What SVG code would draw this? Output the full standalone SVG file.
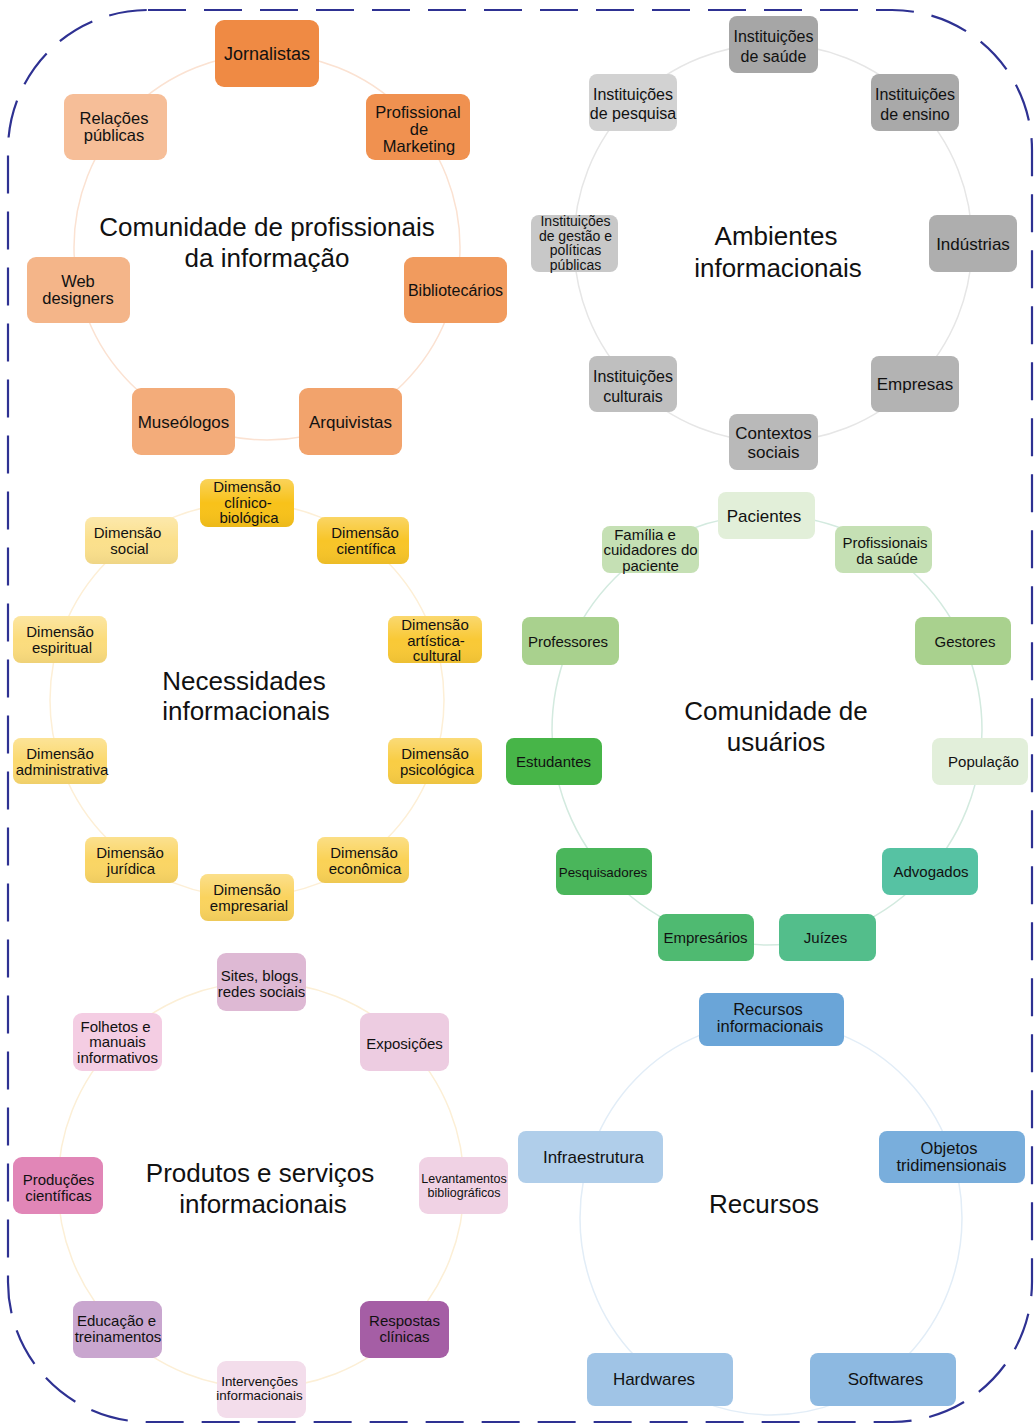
<svg xmlns="http://www.w3.org/2000/svg" width="1036" height="1425" viewBox="0 0 1036 1425">
<defs>
<linearGradient id="shine" x1="0" y1="0" x2="0" y2="1">
<stop offset="0" stop-color="#ffffff" stop-opacity="0.28"/>
<stop offset="0.5" stop-color="#ffffff" stop-opacity="0"/>
<stop offset="1" stop-color="#000000" stop-opacity="0.05"/>
</linearGradient>
</defs>
<style>
text{font-family:"Liberation Sans",Arial,sans-serif;fill:#111;text-anchor:middle}
.n rect{stroke:none}
.title{font-size:26px}
.f17{font-size:17px}
.f165{font-size:16.5px}
.f18{font-size:18px}
.f16{font-size:16px}
.f15{font-size:15px}
.f14{font-size:14px}
.f13{font-size:13.4px}
.f12{font-size:12.5px}
.ring{fill:none;stroke-width:1.5}
.border{fill:none;stroke:#2E3192;stroke-width:2.2;stroke-dasharray:38 18}
</style>
<rect width="1036" height="1425" fill="#ffffff"/>
<rect class="border" x="8" y="10" width="1024" height="1412" rx="140" ry="140"/>

<g id="connectors">
<circle class="ring" cx="267" cy="247" r="193" stroke="#FBE2D2"/>
<circle class="ring" cx="773" cy="243" r="199" stroke="#E6E6E6"/>
<circle class="ring" cx="247" cy="700" r="197" stroke="#FDEFD6"/>
<circle class="ring" cx="767" cy="730" r="215" stroke="#D3EADF"/>
<circle class="ring" cx="261" cy="1185" r="203" stroke="#FCEFD6"/>
<ellipse class="ring" cx="771" cy="1218" rx="191" ry="197" stroke="#E2EDF7"/>
</g>

<!-- Cluster 1 -->
<g id="c1-title"><text class="title" x="267" y="236">Comunidade de profissionais</text><text class="title" x="267" y="267">da informação</text></g>
<g id="jornalistas" class="n"><rect x="215" y="20" width="104" height="67" rx="9" fill="#EF8A44"/><text class="f18" x="267" y="60">Jornalistas</text></g>
<g id="marketing" class="n"><rect x="366" y="94" width="104" height="66" rx="9" fill="#F09150"/><text class="f165" x="418" y="117.5">Profissional</text><text class="f165" x="419" y="134.5">de</text><text class="f165" x="419" y="151.5">Marketing</text></g>
<g id="bibliotecarios" class="n"><rect x="404" y="257" width="103" height="66" rx="9" fill="#F19B5E"/><text class="f16" x="455.5" y="296">Bibliotecários</text></g>
<g id="arquivistas" class="n"><rect x="299" y="388" width="103" height="67" rx="9" fill="#F2A36C"/><text class="f17" x="350.5" y="427.5">Arquivistas</text></g>
<g id="museologos" class="n"><rect x="132" y="388" width="103" height="67" rx="9" fill="#F3AC7A"/><text class="f17" x="183.5" y="427.5">Museólogos</text></g>
<g id="webdesigners" class="n"><rect x="27" y="257" width="103" height="66" rx="9" fill="#F4B589"/><text class="f165" x="78" y="287">Web</text><text class="f165" x="78" y="304">designers</text></g>
<g id="relacoes" class="n"><rect x="64" y="94" width="103" height="66" rx="9" fill="#F6BE98"/><text class="f165" x="114" y="123.5">Relações</text><text class="f165" x="114" y="140.5">públicas</text></g>

<!-- Cluster 2 -->
<g id="c2-title"><text class="title" x="776" y="245">Ambientes</text><text class="title" x="778" y="277">informacionais</text></g>
<g id="saude" class="n"><rect x="729" y="16" width="89" height="57" rx="8" fill="#A6A6A6"/><text class="f16" x="773.5" y="41.5">Instituições</text><text class="f16" x="773.5" y="61.5">de saúde</text></g>
<g id="ensino" class="n"><rect x="871" y="74" width="88" height="57" rx="8" fill="#A9A9A9"/><text class="f16" x="915" y="99.5">Instituições</text><text class="f16" x="915" y="119.5">de ensino</text></g>
<g id="industrias" class="n"><rect x="929" y="215" width="88" height="57" rx="8" fill="#AEAEAE"/><text class="f17" x="973" y="249.5">Indústrias</text></g>
<g id="empresas" class="n"><rect x="871" y="356" width="88" height="56" rx="8" fill="#B3B3B3"/><text class="f17" x="915" y="390">Empresas</text></g>
<g id="contextos" class="n"><rect x="729" y="414" width="89" height="56" rx="8" fill="#B9B9B9"/><text class="f17" x="773.5" y="439">Contextos</text><text class="f17" x="773.5" y="458">sociais</text></g>
<g id="culturais" class="n"><rect x="589" y="356" width="88" height="56" rx="8" fill="#BFBFBF"/><text class="f16" x="633" y="382">Instituições</text><text class="f16" x="633" y="401.5">culturais</text></g>
<g id="gestao" class="n"><rect x="531" y="215" width="87" height="57" rx="8" fill="#C8C8C8"/><text class="f14" x="575.5" y="226">Instituições</text><text class="f14" x="575.5" y="240.5">de gestão e</text><text class="f14" x="575.5" y="255">políticas</text><text class="f14" x="575.5" y="269.5">públicas</text></g>
<g id="pesquisa" class="n"><rect x="589" y="74" width="88" height="57" rx="8" fill="#D2D2D2"/><text class="f16" x="633" y="99.5">Instituições</text><text class="f16" x="633" y="119">de pesquisa</text></g>

<!-- Cluster 3 -->
<g id="c3-title"><text class="title" x="244" y="690">Necessidades</text><text class="title" x="246" y="720">informacionais</text></g>
<g id="clinico" class="n"><rect x="200" y="479" width="94" height="48" rx="8" fill="#F8C21A"/><rect x="200" y="479" width="94" height="48" rx="8" fill="url(#shine)"/><text class="f15" x="247" y="492">Dimensão</text><text class="f15" x="248" y="507.5">clínico-</text><text class="f15" x="249" y="523">biológica</text></g>
<g id="cientifica" class="n"><rect x="317" y="517" width="92" height="47" rx="8" fill="#F8C528"/><rect x="317" y="517" width="92" height="47" rx="8" fill="url(#shine)"/><text class="f15" x="365" y="538">Dimensão</text><text class="f15" x="366" y="554">científica</text></g>
<g id="artistica" class="n"><rect x="388" y="616" width="94" height="47" rx="8" fill="#F9C936"/><rect x="388" y="616" width="94" height="47" rx="8" fill="url(#shine)"/><text class="f15" x="435" y="630">Dimensão</text><text class="f15" x="436" y="645.5">artística-</text><text class="f15" x="437" y="661">cultural</text></g>
<g id="psicologica" class="n"><rect x="388" y="738" width="94" height="46" rx="8" fill="#F9CD44"/><rect x="388" y="738" width="94" height="46" rx="8" fill="url(#shine)"/><text class="f15" x="435" y="758.5">Dimensão</text><text class="f15" x="437" y="774.5">psicológica</text></g>
<g id="economica" class="n"><rect x="317" y="837" width="92" height="46" rx="8" fill="#FAD256"/><rect x="317" y="837" width="92" height="46" rx="8" fill="url(#shine)"/><text class="f15" x="364" y="857.5">Dimensão</text><text class="f15" x="365" y="873.5">econômica</text></g>
<g id="empresarial" class="n"><rect x="200" y="874" width="94" height="47" rx="8" fill="#FAD35E"/><rect x="200" y="874" width="94" height="47" rx="8" fill="url(#shine)"/><text class="f15" x="247" y="895">Dimensão</text><text class="f15" x="249" y="911">empresarial</text></g>
<g id="juridica" class="n"><rect x="85" y="837" width="93" height="46" rx="8" fill="#FAD564"/><rect x="85" y="837" width="93" height="46" rx="8" fill="url(#shine)"/><text class="f15" x="130" y="857.5">Dimensão</text><text class="f15" x="131" y="873.5">jurídica</text></g>
<g id="administrativa" class="n"><rect x="13" y="738" width="94" height="46" rx="8" fill="#FBD96F"/><rect x="13" y="738" width="94" height="46" rx="8" fill="url(#shine)"/><text class="f15" x="60" y="758.5">Dimensão</text><text class="f15" x="62" y="774.5">administrativa</text></g>
<g id="espiritual" class="n"><rect x="13" y="616" width="94" height="47" rx="8" fill="#FBDC7D"/><rect x="13" y="616" width="94" height="47" rx="8" fill="url(#shine)"/><text class="f15" x="60" y="637">Dimensão</text><text class="f15" x="62" y="653">espiritual</text></g>
<g id="social" class="n"><rect x="85" y="517" width="93" height="47" rx="8" fill="#FBE08C"/><rect x="85" y="517" width="93" height="47" rx="8" fill="url(#shine)"/><text class="f15" x="127.5" y="538">Dimensão</text><text class="f15" x="129.5" y="554">social</text></g>

<!-- Cluster 4 -->
<g id="c4-title"><text class="title" x="776" y="720">Comunidade de</text><text class="title" x="776" y="751">usuários</text></g>
<g id="pacientes" class="n"><rect x="718" y="492" width="97" height="47" rx="8" fill="#E2EFD9"/><text class="f17" x="764" y="521.5">Pacientes</text></g>
<g id="profsaude" class="n"><rect x="835" y="526" width="97" height="47" rx="8" fill="#C5E0B4"/><text class="f15" x="885" y="548">Profissionais</text><text class="f15" x="887" y="563.5">da saúde</text></g>
<g id="gestores" class="n"><rect x="915" y="617" width="96" height="48" rx="8" fill="#A9D18E"/><text class="f15" x="965" y="646.5">Gestores</text></g>
<g id="populacao" class="n"><rect x="932" y="738" width="96" height="47" rx="8" fill="#E2EFDA"/><text class="f15" x="983.5" y="766.5">População</text></g>
<g id="advogados" class="n"><rect x="882" y="848" width="96" height="47" rx="8" fill="#56C2A3"/><text class="f15" x="931" y="877">Advogados</text></g>
<g id="juizes" class="n"><rect x="779" y="914" width="97" height="47" rx="8" fill="#53BE8B"/><text class="f15" x="825.5" y="943">Juízes</text></g>
<g id="empresarios" class="n"><rect x="658" y="914" width="96" height="47" rx="8" fill="#4FBA71"/><text class="f15" x="705.5" y="943">Empresários</text></g>
<g id="pesquisadores" class="n"><rect x="556" y="848" width="96" height="47" rx="8" fill="#4AB65B"/><text class="f13" x="603" y="876.5">Pesquisadores</text></g>
<g id="estudantes" class="n"><rect x="506" y="738" width="96" height="47" rx="8" fill="#47B548"/><text class="f15" x="553.5" y="766.5">Estudantes</text></g>
<g id="professores" class="n"><rect x="522" y="617" width="97" height="48" rx="8" fill="#A9D18E"/><text class="f15" x="568" y="646.5">Professores</text></g>
<g id="familia" class="n"><rect x="602" y="526" width="97" height="47" rx="8" fill="#C5E0B4"/><text class="f15" x="645" y="539.5">Família e</text><text class="f15" x="650.5" y="555">cuidadores do</text><text class="f15" x="650.5" y="570.5">paciente</text></g>

<!-- Cluster 5 -->
<g id="c5-title"><text class="title" x="260" y="1182">Produtos e serviços</text><text class="title" x="263" y="1213">informacionais</text></g>
<g id="sites" class="n"><rect x="217" y="953" width="89" height="58" rx="9" fill="#DEB9D4"/><text class="f15" x="261.5" y="981">Sites, blogs,</text><text class="f15" x="261.5" y="996.5">redes sociais</text></g>
<g id="exposicoes" class="n"><rect x="360" y="1013" width="89" height="58" rx="9" fill="#EDCCE1"/><text class="f15" x="404.5" y="1049">Exposições</text></g>
<g id="levantamentos" class="n"><rect x="419" y="1157" width="89" height="57" rx="9" fill="#F0D2E4"/><text class="f12" x="464" y="1183">Levantamentos</text><text class="f12" x="464" y="1196.5">bibliográficos</text></g>
<g id="respostas" class="n"><rect x="360" y="1301" width="89" height="57" rx="9" fill="#A55EA5"/><text class="f15" x="404.5" y="1326">Respostas</text><text class="f15" x="404.5" y="1341.5">clínicas</text></g>
<g id="intervencoes" class="n"><rect x="217" y="1361" width="89" height="57" rx="9" fill="#F3DDEB"/><text class="f13" x="259.5" y="1386">Intervenções</text><text class="f13" x="259.5" y="1399.5">informacionais</text></g>
<g id="educacao" class="n"><rect x="73" y="1301" width="89" height="57" rx="9" fill="#C9A6CF"/><text class="f15" x="116.5" y="1326">Educação e</text><text class="f15" x="118" y="1341.5">treinamentos</text></g>
<g id="producoes" class="n"><rect x="13" y="1157" width="90" height="57" rx="9" fill="#E186B7"/><text class="f15" x="58.5" y="1185">Produções</text><text class="f15" x="58.5" y="1200.5">científicas</text></g>
<g id="folhetos" class="n"><rect x="73" y="1013" width="89" height="58" rx="9" fill="#F4CDE3"/><text class="f15" x="115.5" y="1031.5">Folhetos e</text><text class="f15" x="117.5" y="1047">manuais</text><text class="f15" x="117.5" y="1062.5">informativos</text></g>

<!-- Cluster 6 -->
<g id="c6-title"><text class="title" x="764" y="1213">Recursos</text></g>
<g id="recinfo" class="n"><rect x="699" y="993" width="145" height="53" rx="8" fill="#6AA5D8"/><text class="f165" x="768" y="1015">Recursos</text><text class="f165" x="770" y="1032">informacionais</text></g>
<g id="objetos" class="n"><rect x="879" y="1131" width="146" height="52" rx="8" fill="#79AEDC"/><text class="f165" x="949" y="1154">Objetos</text><text class="f165" x="951.5" y="1171">tridimensionais</text></g>
<g id="softwares" class="n"><rect x="810" y="1353" width="146" height="53" rx="8" fill="#8DB9E1"/><text class="f17" x="885.5" y="1385">Softwares</text></g>
<g id="hardwares" class="n"><rect x="587" y="1353" width="146" height="53" rx="8" fill="#A0C4E6"/><text class="f17" x="654" y="1385">Hardwares</text></g>
<g id="infraestrutura" class="n"><rect x="518" y="1131" width="145" height="52" rx="8" fill="#B0CEEA"/><text class="f17" x="593.5" y="1163">Infraestrutura</text></g>
</svg>
